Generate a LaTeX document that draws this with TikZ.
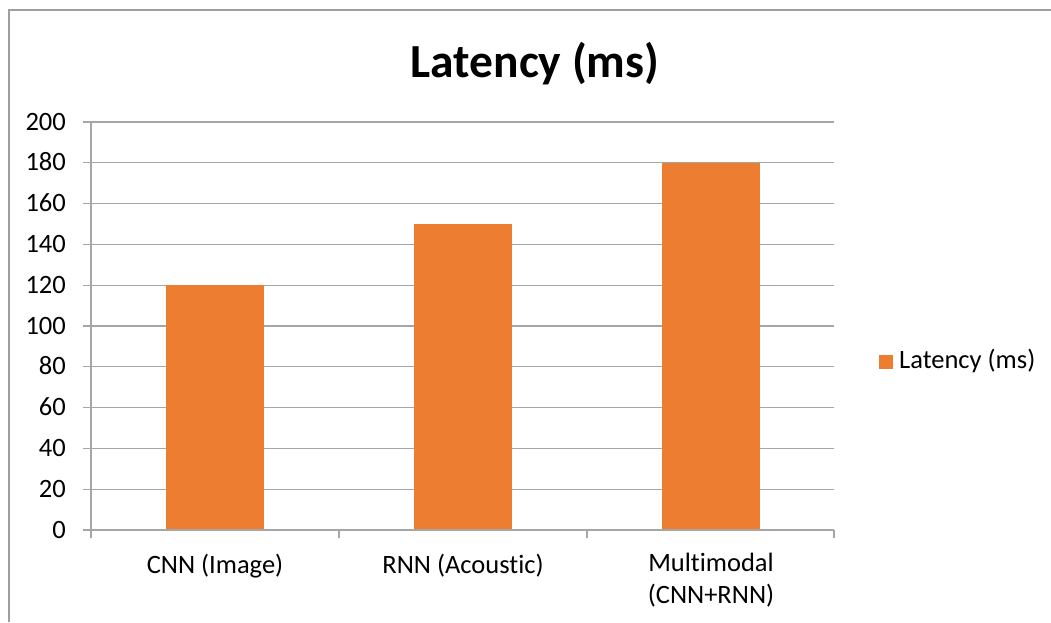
\documentclass[tikz,border=0pt]{standalone}
\usepackage{fontspec}
\setmainfont{Carlito}[Ligatures=NoCommon]
\definecolor{barorange}{HTML}{ED7D31}
\definecolor{gridgray}{HTML}{A6A6A6}
\definecolor{framegray}{HTML}{9E9E9E}
\begin{document}
\begin{tikzpicture}[x=1pt,y=-1pt,
  lbl/.style={font=\fontsize{26.5}{31}\selectfont,inner sep=0pt},
  gridln/.style={draw=gridgray,line width=1.3pt},
  bar/.style={fill=barorange}]
\useasboundingbox (0,0) rectangle (1051,622);
\draw[framegray,line width=2pt] (9,622) -- (9,10) -- (1051,10);
\node[lbl,font=\bfseries\fontsize{47.5}{56}\selectfont,anchor=base] (title) at (535,77) {Latency (ms)};
% value axis and grid
\foreach \v in {0,20,...,200} {
  \draw[gridln] (83,{530-2.04*\v}) -- (834,{530-2.04*\v});
  \node[lbl,anchor=base east] (y\v) at (66,{538-2.04*\v}) {\v};
}
\coordinate (top) at (91,122);
\coordinate (origin) at (91,530);
\coordinate (xend) at (834,530);
% bars
\foreach \c/\v/\n in {215/120/cnn,463/150/rnn,711/180/mm}
  \fill[bar] (\c-49,530) rectangle ({\c+49},{530-2.04*\v}) coordinate (\n);
\draw[gridln] (top) -- (origin) -- (xend);
\foreach \x in {91,339,587,834}
  \draw[gridln] (\x,530) -- (\x,538);
% categories
\node[lbl,anchor=base] (cnnlbl) at (215,573) {CNN (Image)};
\node[lbl,anchor=base] (rnnlbl) at (463,573) {RNN (Acoustic)};
\node[lbl,anchor=base,align=center,font=\fontsize{26.5}{31.5}\selectfont] (mmlbl) at (711,603) {Multimodal\\(CNN+RNN)};
% legend
\node[bar,minimum size=14pt,inner sep=0pt] (key) at (885.5,361.5) {};
\node[lbl,anchor=base west] (legtxt) at (899,368) {Latency (ms)};
\end{tikzpicture}
\end{document}
